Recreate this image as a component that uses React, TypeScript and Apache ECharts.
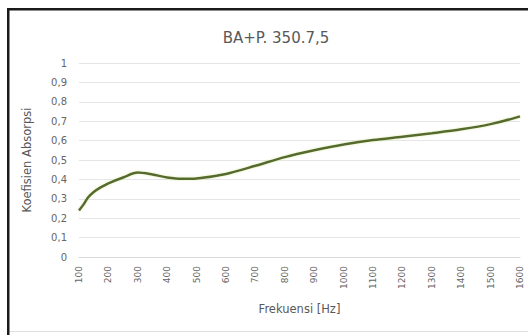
import React, { useEffect, useRef } from "react";
import * as echarts from "echarts";

// Measured absorption coefficient against frequency
const frequencies = [100, 115, 130, 150, 175, 200, 250, 300, 350, 400, 450, 500, 600, 700, 800, 900, 1000, 1100, 1200, 1300, 1400, 1500, 1600];
const absorption = [0.24, 0.27, 0.305, 0.335, 0.36, 0.38, 0.41, 0.435, 0.425, 0.41, 0.403, 0.405, 0.428, 0.47, 0.515, 0.55, 0.58, 0.603, 0.62, 0.638, 0.658, 0.685, 0.725];

const titleText = "BA+P. 350.7,5";
const xName = "Frekuensi [Hz]";
const yName = "Koefisien Absorpsi";

const font = "DejaVu Sans";

export default function App() {
  const ref = useRef<HTMLDivElement>(null);

  useEffect(() => {
    if (!ref.current) return;
    const chart = echarts.init(ref.current, null, { renderer: "svg" });
    chart.setOption({
      animation: false,
      backgroundColor: "#ffffff",
      title: {
        text: titleText,
        left: 271,
        top: 25,
        textAlign: "center",
        textStyle: { fontFamily: font, fontSize: 15, fontWeight: "normal", color: "#595959" },
      },
      grid: { left: 79, right: 8, top: 63, bottom: 78 },
      xAxis: {
        type: "value",
        min: 100,
        max: 1600,
        interval: 100,
        name: xName,
        nameLocation: "middle",
        nameGap: 46,
        nameTextStyle: { fontFamily: font, fontSize: 11.5, color: "#595959" },
        axisLine: { show: true, lineStyle: { color: "#d9d9d9", width: 1 } },
        axisTick: { show: false },
        splitLine: { show: false },
        axisLabel: {
          rotate: 90,
          margin: 9,
          fontFamily: font,
          fontSize: 9,
          color: "#666666",
          formatter: (v: number) => String(v),
        },
      },
      yAxis: {
        type: "value",
        min: 0,
        max: 1,
        interval: 0.1,
        name: yName,
        nameLocation: "middle",
        nameGap: 46,
        nameRotate: 90,
        nameTextStyle: { fontFamily: font, fontSize: 11.5, color: "#595959" },
        axisLine: { show: false },
        axisTick: { show: false },
        splitLine: { lineStyle: { color: "#e6e6e6", width: 1 } },
        axisLabel: {
          margin: 12,
          fontFamily: font,
          fontSize: 10,
          color: "#666666",
          formatter: (v: number) => (Math.round(v * 10) / 10).toString().replace(".", ","),
        },
      },
      series: [
        {
          type: "line",
          data: frequencies.map((f, i) => [f, absorption[i]]),
          smooth: 0.3,
          showSymbol: false,
          lineStyle: { color: "#556b2f", width: 2.5, shadowColor: "rgba(200,220,120,0.6)", shadowBlur: 2 },
        },
      ],
      graphic: [
        { type: "rect", shape: { x: 7, y: 8, width: 521, height: 2.5 }, style: { fill: "#1a1a1a" } },
        { type: "rect", shape: { x: 7, y: 8, width: 2.5, height: 327 }, style: { fill: "#1a1a1a" } },
        { type: "line", shape: { x1: 10, y1: 331.5, x2: 528, y2: 331.5 }, style: { stroke: "#e0e0e0", lineWidth: 1 } },
      ],
    });
    return () => chart.dispose();
  }, []);

  return <div ref={ref} style={{ position: "absolute", left: 0, top: 0, width: 528, height: 335 }} />;
}
